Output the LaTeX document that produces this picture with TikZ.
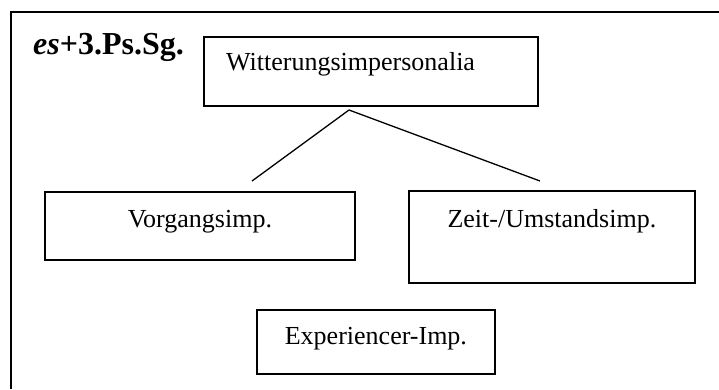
\documentclass[tikz,border=0pt]{standalone}
\usepackage{fontspec}
\setmainfont{Liberation Serif}
\usepackage{tikz}
\usetikzlibrary{positioning,calc}

\begin{document}
\begin{tikzpicture}[x=1pt,y=-1pt,
  box/.style={draw,line width=1.8pt,inner sep=0pt,anchor=north west},
  lbl/.style={inner sep=0pt,font=\fontsize{26}{30}\selectfont}]
\useasboundingbox (0,0) rectangle (719,389);
% frame
\draw[line width=2pt] (11,389) -- (11,12) -- (719,12);
\node[inner sep=0pt,anchor=base west,font=\fontsize{32}{36}\selectfont\bfseries] (tag) at (33,54) {\textit{es}+3.Ps.Sg.};
% boxes
\node[box,minimum width=334,minimum height=69] (witt) at (203,36) {};
\node[box,minimum width=310,minimum height=68] (vorg) at (44,191) {};
\node[box,minimum width=286,minimum height=92] (zeit) at (408,190) {};
\node[box,minimum width=238,minimum height=64] (expe) at (256,309) {};
% texts
\node[lbl,anchor=base west] (wittlbl) at ($(witt.north west)+(23,34)$) {Witterungsimpersonalia};
\node[lbl,anchor=base] (vorglbl) at ($(vorg.north)+(0,36)$) {Vorgangsimp.};
\node[lbl,anchor=base] (zeitlbl) at ($(zeit.north)+(0,37)$) {Zeit-/Umstandsimp.};
\node[lbl,anchor=base] (expelbl) at ($(expe.north)+(0,35)$) {Experiencer-Imp.};
% branches
\coordinate (apex) at (349,110);
\coordinate (lend) at (252,181);
\coordinate (rend) at (540,181);
\draw[line width=1.3pt] (lend) -- (apex) -- (rend);
\end{tikzpicture}
\end{document}
